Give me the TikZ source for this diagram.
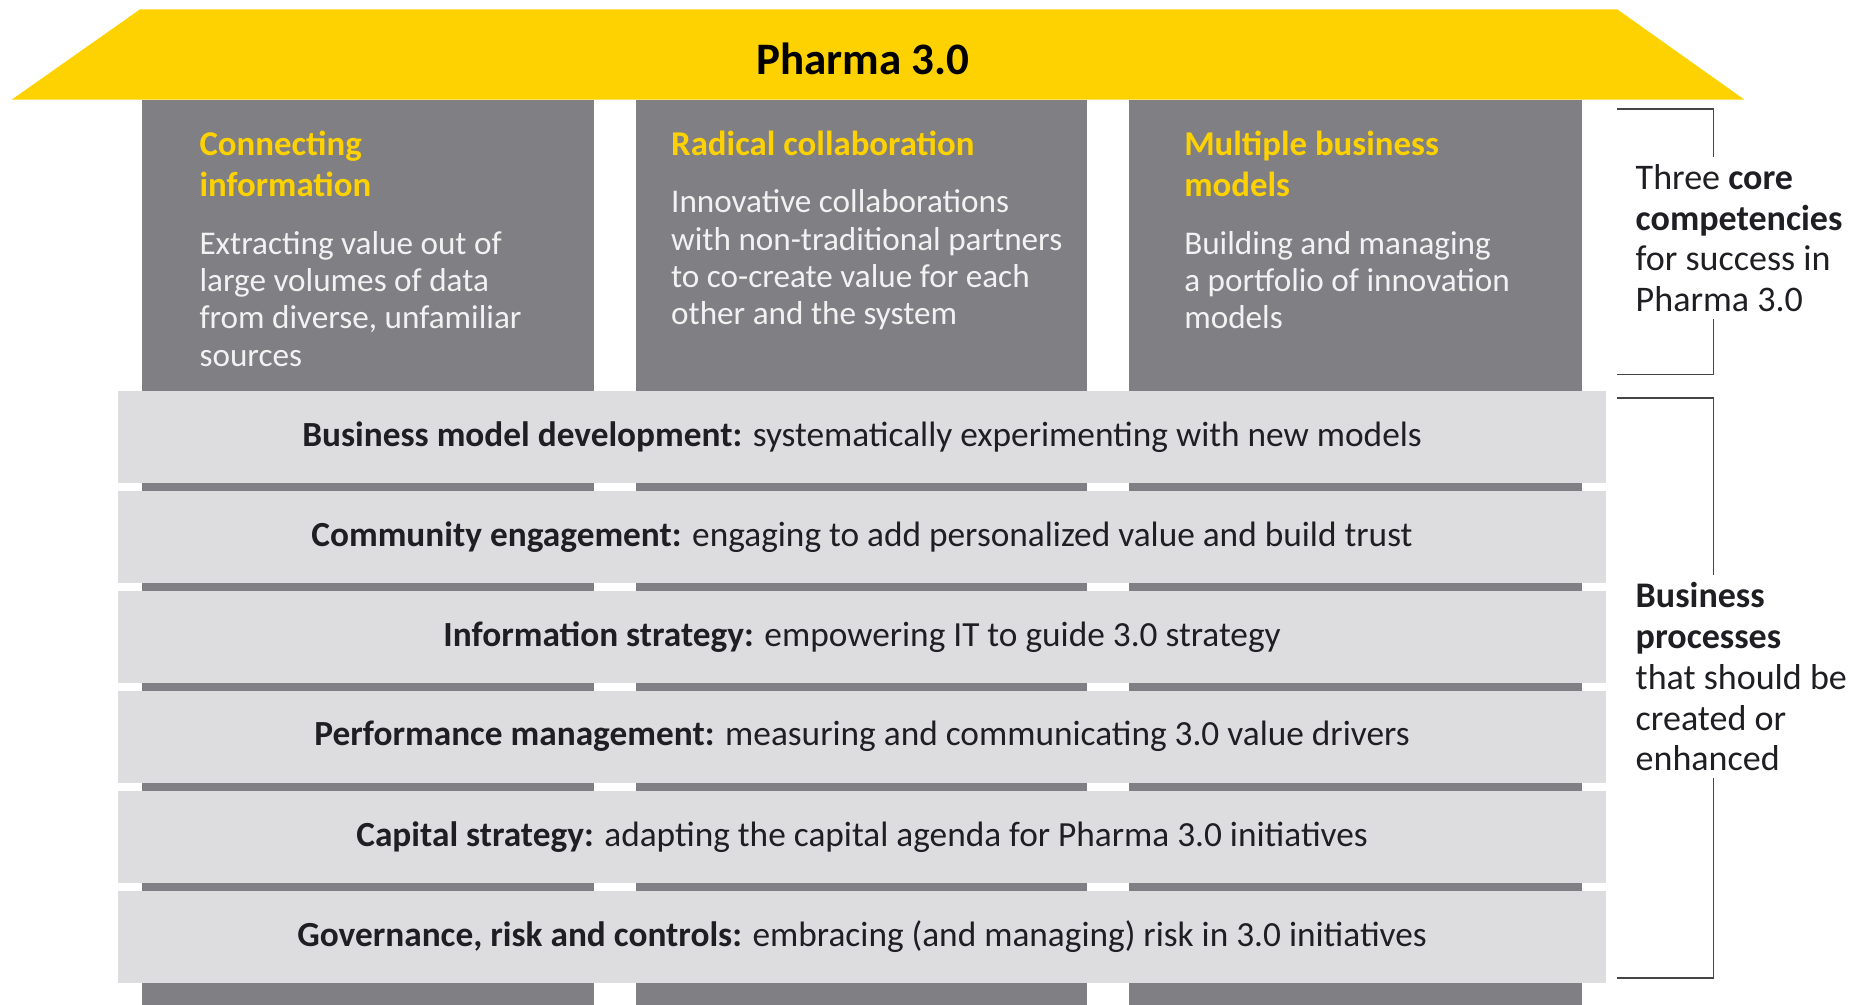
\documentclass[tikz,border=0pt]{standalone}
\usepackage{fontspec}
\setmainfont{Carlito}
\usetikzlibrary{positioning}

\definecolor{eyyellow}{RGB}{253,210,0}
\definecolor{pillargray}{RGB}{128,127,132}
\definecolor{bandgray}{RGB}{221,221,224}
\definecolor{bracketgray}{RGB}{70,70,70}
\definecolor{inkgray}{RGB}{30,30,35}

\tikzset{
  roof/.style={fill=eyyellow, draw=none},
  pillar/.style={fill=pillargray, draw=none},
  band/.style={fill=bandgray, draw=none, minimum width=627.5pt, minimum height=38.75pt,
    inner sep=0pt, text=inkgray, font=\fontsize{14.9}{16}\selectfont},
  head/.style={anchor=north west, align=left, inner sep=0pt, text=eyyellow,
    font=\fontsize{14.7}{17.5}\selectfont\bfseries},
  body/.style={align=left, inner sep=0pt, text=white!95!black,
    font=\fontsize{14}{15.75}\selectfont},
  side/.style={anchor=west, align=left, fill=white, inner sep=3pt, text=inkgray,
    font=\fontsize{15.2}{17.25}\selectfont},
  bracket/.style={draw=bracketgray, line width=0.8pt}
}

\begin{document}
\begin{tikzpicture}[x=0.5pt, y=-0.5pt]

\useasboundingbox (0,0) rectangle (1568,848);

%roof
\fill[roof] (118,8) -- (1365,8) -- (1472,84) -- (10,84) -- cycle;
\node[font=\fontsize{19}{22}\selectfont\bfseries] (title) at (728,50) {Pharma 3.0};

%pillars
\fill[pillar] (120,84) rectangle (501,848);
\fill[pillar] (537,84) rectangle (917,848);
\fill[pillar] (953,84) rectangle (1335,848);

\node[head] (conninfo) at (168,110) {Connecting\\information};
\node[body, below=14pt of conninfo.south west, anchor=north west] (conntext)
  {Extracting value out of\\large volumes of data\\from diverse, unfamiliar\\sources};

\node[head] (radcollab) at (566,110) {Radical collaboration};
\node[body, below=14pt of radcollab.south west, anchor=north west] (radtext)
  {Innovative collaborations\\with non-traditional partners\\to co-create value for each\\other and the system};

\node[head] (multibiz) at (999,110) {Multiple business\\models};
\node[body, below=14pt of multibiz.south west, anchor=north west] (multitext)
  {Building and managing\\a portfolio of innovation\\models};

%business process bands
\node[band] (bizmodel) at (727.5,368.5)
  {\textbf{Business model development:} systematically experimenting with new models};
\node[band] (community) at (727.5,452.9)
  {\textbf{Community engagement:} engaging to add personalized value and build trust};
\node[band] (infostrat) at (727.5,537.3)
  {\textbf{Information strategy:} empowering IT to guide 3.0 strategy};
\node[band] (perfmgmt) at (727.5,621.7)
  {\textbf{Performance management:} measuring and communicating 3.0 value drivers};
\node[band] (capstrat) at (727.5,706.1)
  {\textbf{Capital strategy:} adapting the capital agenda for Pharma 3.0 initiatives};
\node[band] (governance) at (727.5,790.5)
  {\textbf{Governance, risk and controls:} embracing (and managing) risk in 3.0 initiatives};

%brackets
\coordinate (T1) at (1365,92);
\coordinate (T2) at (1446,92);
\coordinate (T3) at (1446,316);
\coordinate (T4) at (1365,316);
\coordinate (B1) at (1365,336);
\coordinate (B2) at (1446,336);
\coordinate (B3) at (1446,825);
\coordinate (B4) at (1365,825);

\draw[bracket] (T1) -- (T2) -- (T3) -- (T4);
\draw[bracket] (B1) -- (B2) -- (B3) -- (B4);

\node[side] (corelabel) at (1374,201)
  {Three \textbf{core}\\\textbf{competencies}\\for success in\\Pharma 3.0};
\node[side] (proclabel) at (1374,571)
  {\textbf{Business}\\\textbf{processes}\\that should be\\created or\\enhanced};

\end{tikzpicture}
\end{document}
